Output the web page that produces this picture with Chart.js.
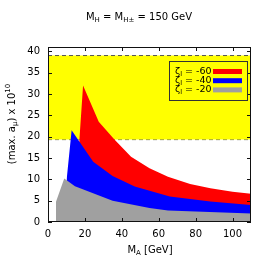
<!DOCTYPE html>
<html>
<head>
<meta charset="utf-8">
<script src="https://cdn.jsdelivr.net/npm/chart.js@4/dist/chart.umd.min.js"></script>
<style>
  html, body { margin: 0; padding: 0; background: #fff; }
  #wrap { width: 270px; height: 270px; }
</style>
</head>
<body>
<div id="wrap"><canvas id="myChart" width="270" height="270"></canvas></div>
<script>
// data (M_A in GeV, max a_mu x 10^10)
const redMass  = [14, 19, 27.5, 36, 45, 55, 65, 77, 88, 100, 110];
const redVal   = [0, 32, 23.5, 19.3, 15.3, 12.6, 10.6, 8.9, 7.9, 7.1, 6.6];
const blueMass = [10, 12.8, 24.5, 35, 47, 66, 88, 110];
const blueVal  = [9.5, 21.5, 14.1, 10.8, 8.3, 6.0, 4.8, 4.0];
const grayMass = [4.3, 4.3, 8.8, 14.6, 35, 55, 65, 110];
const grayVal  = [0, 4.7, 10.2, 8.4, 5.0, 3.3, 2.7, 2.0];
const bandLow  = 19.3;
const bandHigh = 39;
const xTicks = [0, 20, 40, 60, 80, 100];
const yTicks = [0, 5, 10, 15, 20, 25, 30, 35, 40];
const zetaVals = ['-60', '-40', '-20'];

const FONT = '"DejaVu Sans", sans-serif';

function pts(xs, ys) {
  return xs.map((x, i) => ({ x: x, y: ys[i] }));
}

// text with sub/superscripts, parts = [[text, 'n'|'sub'|'sup'], ...]
function richWidth(ctx, parts, size) {
  let w = 0;
  parts.forEach(p => {
    ctx.font = (p[1] === 'n' ? size : size * 0.7) + 'px ' + FONT;
    w += ctx.measureText(p[0]).width;
  });
  return w;
}
function drawRich(ctx, parts, x, y, size) {
  let cx = x;
  parts.forEach(p => {
    let dy = 0;
    if (p[1] === 'sub') dy = size * 0.3;
    if (p[1] === 'sup') dy = -size * 0.4;
    ctx.font = (p[1] === 'n' ? size : size * 0.7) + 'px ' + FONT;
    ctx.fillText(p[0], cx, y + dy);
    cx += ctx.measureText(p[0]).width;
  });
}

const decorations = {
  id: 'decorations',
  afterDraw(chart) {
    const ctx = chart.ctx;
    const a = chart.chartArea;
    const xs = chart.scales.x, ys = chart.scales.y;
    ctx.save();
    // frame + inward ticks on all sides
    ctx.strokeStyle = '#111';
    ctx.lineWidth = 1;
    ctx.strokeRect(a.left + 0.5, a.top + 0.5, a.right - a.left - 1, a.bottom - a.top - 1);
    ctx.beginPath();
    xTicks.forEach(v => {
      const px = Math.round(xs.getPixelForValue(v)) + 0.5;
      ctx.moveTo(px, a.bottom); ctx.lineTo(px, a.bottom - 4);
      ctx.moveTo(px, a.top); ctx.lineTo(px, a.top + 4);
    });
    yTicks.forEach(v => {
      const py = Math.round(ys.getPixelForValue(v)) + 0.5;
      ctx.moveTo(a.left, py); ctx.lineTo(a.left + 4, py);
      ctx.moveTo(a.right, py); ctx.lineTo(a.right - 4, py);
    });
    ctx.stroke();

    ctx.fillStyle = '#000';
    ctx.textBaseline = 'middle';
    // title
    const title = [['M', 'n'], ['H', 'sub'], [' = M', 'n'], ['H±', 'sub'], [' = 150 GeV', 'n']];
    let w = richWidth(ctx, title, 10);
    drawRich(ctx, title, 139 - w / 2, 17, 10);
    // x title
    const xt = [['M', 'n'], ['A', 'sub'], [' [GeV]', 'n']];
    w = richWidth(ctx, xt, 10);
    drawRich(ctx, xt, 150 - w / 2, 250, 10);
    // y title
    const yt = [['(max. a', 'n'], ['μ', 'sub'], [') x 10', 'n'], ['10', 'sup']];
    ctx.save();
    ctx.translate(12, 124);
    ctx.rotate(-Math.PI / 2);
    w = richWidth(ctx, yt, 10);
    drawRich(ctx, yt, -w / 2, 0, 10);
    ctx.restore();

    // legend box
    ctx.strokeStyle = '#333';
    ctx.strokeRect(169.5, 61.5, 78, 39);
    const cols = ['#ff0000', '#0000ff', '#a0a0a0'];
    zetaVals.forEach((z, i) => {
      const yy = 71.5 + i * 9.2;
      drawRich(ctx, [['ζ', 'n'], ['l', 'sub'], [' = ' + z, 'n']], 175, yy, 9.5);
      ctx.fillStyle = cols[i];
      ctx.fillRect(213, yy - 2.5, 29, 5);
      ctx.fillStyle = '#000';
    });
    ctx.restore();
  }
};

const xMin = 0, xMax = 110;

new Chart(document.getElementById('myChart').getContext('2d'), {
  type: 'line',
  data: {
    datasets: [
      { label: 'ζl = -20', data: pts(grayMass, grayVal), backgroundColor: '#a0a0a0', borderWidth: 0, fill: 'origin' },
      { label: 'ζl = -40', data: pts(blueMass, blueVal), backgroundColor: '#0000ff', borderWidth: 0, fill: 'origin' },
      { label: 'ζl = -60', data: pts(redMass, redVal), backgroundColor: '#ff0000', borderWidth: 0, fill: 'origin' },
      { label: 'high', data: pts([xMin, xMax], [bandHigh, bandHigh]), backgroundColor: '#ffff00',
        borderColor: '#555', borderWidth: 1, borderDash: [4, 3], fill: '+1' },
      { label: 'low', data: pts([xMin, xMax], [bandLow, bandLow]),
        borderColor: '#555', borderWidth: 1, borderDash: [4, 3], fill: false }
    ]
  },
  options: {
    responsive: false,
    animation: false,
    events: [],
    layout: { padding: { top: 47, right: 19, left: 0, bottom: 0 } },
    elements: { point: { radius: 0 }, line: { tension: 0 } },
    plugins: { legend: { display: false }, tooltip: { enabled: false } },
    scales: {
      x: {
        type: 'linear', min: xMin, max: xMax,
        grid: { display: false, drawTicks: false },
        border: { display: false },
        afterBuildTicks: s => { s.ticks = xTicks.map(v => ({ value: v })); },
        afterFit: s => { s.height = 48; },
        ticks: { padding: 6, color: '#000', font: { family: FONT, size: 10 } }
      },
      y: {
        min: 0, max: 41,
        grid: { display: false, drawTicks: false },
        border: { display: false },
        afterBuildTicks: s => { s.ticks = yTicks.map(v => ({ value: v })); },
        afterFit: s => { s.width = 48; },
        ticks: { padding: 8, color: '#000', font: { family: FONT, size: 10 } }
      }
    }
  },
  plugins: [decorations]
});
</script>
</body>
</html>
